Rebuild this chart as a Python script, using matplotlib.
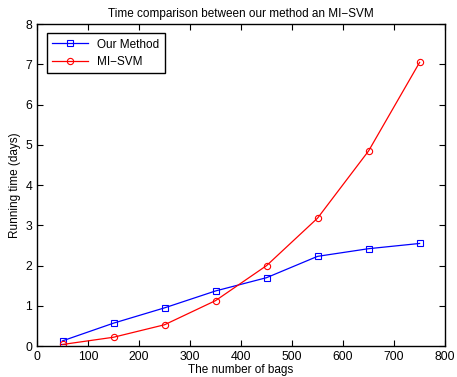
import matplotlib
matplotlib.use("Agg")
import matplotlib.pyplot as plt

plt.rcParams['font.family'] = ['Liberation Sans', 'DejaVu Sans']
plt.rcParams['axes.unicode_minus'] = True

bags = [50, 150, 250, 350, 450, 550, 650, 750]
ours = [0.13, 0.57, 0.95, 1.37, 1.70, 2.23, 2.42, 2.55]
misvm = [0.04, 0.22, 0.53, 1.13, 2.00, 3.18, 4.85, 7.05]

fig = plt.figure(figsize=(4.57, 3.77), dpi=100)
ax = fig.add_axes([0.081, 0.082, 0.893, 0.854])

ax.plot(bags, ours, color='blue', marker='s', markersize=4.5, mfc='none',
        mew=0.8, lw=0.9, label='Our Method')
ax.plot(bags, misvm, color='red', marker='o', markersize=4.5, mfc='none',
        mew=0.8, lw=0.9, label='MI\u2212SVM')

ax.set_xlim(0, 800)
ax.set_ylim(0, 8)
ax.set_xticks(range(0, 801, 100))
ax.set_yticks(range(0, 9))
ax.tick_params(direction='in', top=True, right=True, labelsize=8.8, length=4, width=0.8)
for s in ax.spines.values():
    s.set_linewidth(1.0)

ax.set_title('Time comparison between our method an MI\u2212SVM', fontsize=8.5, pad=5)
ax.set_xlabel('The number of bags', fontsize=8.5, labelpad=1)
ax.set_ylabel('Running time (days)', fontsize=8.5, labelpad=3)

leg = ax.legend(loc='upper left', fontsize=8.5, fancybox=False, framealpha=1,
                edgecolor='black', handlelength=3, borderpad=0.45,
                labelspacing=0.45, bbox_to_anchor=(0.01, 0.99))
leg.get_frame().set_linewidth(1.0)

fig.savefig('out.png', dpi=100)
